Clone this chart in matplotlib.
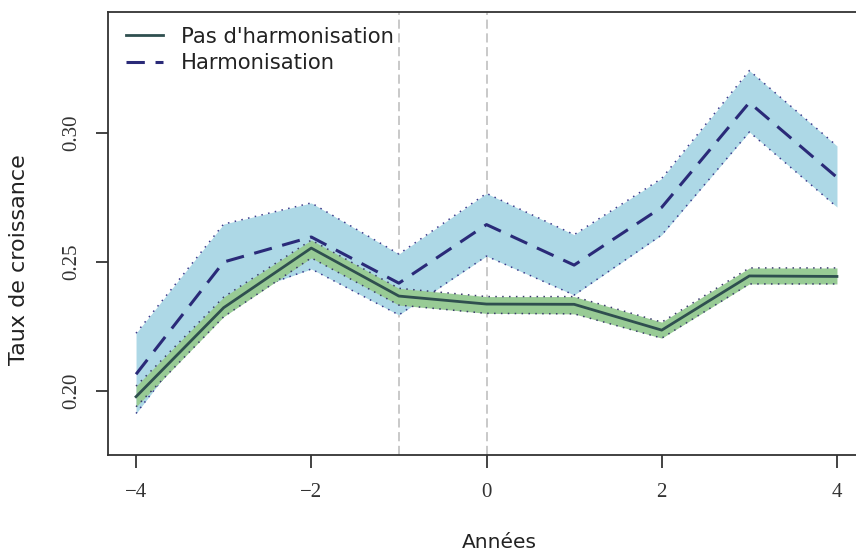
import numpy as np
import matplotlib.pyplot as plt

# donnees
annees = [-4, -3, -2, -1, 0, 1, 2, 3, 4]

harmo = [0.2065, 0.2500, 0.2597, 0.2418, 0.2645, 0.2488, 0.2712, 0.3118, 0.2828]
harmo_haut = [0.2224, 0.2647, 0.2729, 0.2531, 0.2766, 0.2606, 0.2824, 0.3242, 0.2950]
harmo_bas = [0.1913, 0.2353, 0.2473, 0.2295, 0.2523, 0.2372, 0.2605, 0.3004, 0.2713]

pas_harmo = [0.1978, 0.2323, 0.2554, 0.2368, 0.2337, 0.2336, 0.2236, 0.2446, 0.2444]
pas_harmo_haut = [0.2019, 0.2364, 0.2585, 0.2398, 0.2366, 0.2366, 0.2267, 0.2477, 0.2477]
pas_harmo_bas = [0.1939, 0.2288, 0.2516, 0.2333, 0.2301, 0.2299, 0.2205, 0.2415, 0.2415]

xticks = [-4, -2, 0, 2, 4]
yticks = [0.20, 0.25, 0.30]
vlines = [-1, 0]

fig = plt.figure(figsize=(8.56, 5.53), dpi=100)
ax = fig.add_axes([108 / 856, 98 / 553, 757 / 856, 443 / 553])

dot = (0, (1, 3.5))
ax.fill_between(annees, harmo_bas, harmo_haut, color='#add8e6', lw=0, zorder=1)
ax.plot(annees, harmo_haut, color='#3b3b8c', lw=1.1, ls=dot, zorder=2)
ax.plot(annees, harmo_bas, color='#3b3b8c', lw=1.1, ls=dot, zorder=2)

ax.fill_between(annees, pas_harmo_bas, pas_harmo_haut, color='#98cb95', lw=0, zorder=3)
ax.plot(annees, pas_harmo_haut, color='#3b3b6c', lw=1.1, ls=dot, zorder=4)
ax.plot(annees, pas_harmo_bas, color='#3b3b6c', lw=1.1, ls=dot, zorder=4)

ax.plot(annees, pas_harmo, color='#2f4f4f', lw=2, zorder=5, label="Pas d'harmonisation")
ax.plot(annees, harmo, color='#2a2a78', lw=2.2, ls=(0, (6, 3.5)), zorder=5, label='Harmonisation')

for v in vlines:
    ax.axvline(v, color='#bbbbbb', lw=1.1, ls=(0, (6, 3)), zorder=0)

ax.set_xlim(-4.32, 4.32)
ax.set_ylim(0.1752, 0.3469)

ax.set_xticks(xticks)
ax.set_xticklabels(['\u22124', '\u22122', '0', '2', '4'])
ax.set_yticks(yticks)
ax.set_yticklabels(['0.20', '0.25', '0.30'], rotation=90, va='center')
ax.tick_params(length=9, width=1.2, color='#222222', labelsize=15)
ax.tick_params(axis='x', pad=11)
ax.tick_params(axis='y', pad=10)
for lab in ax.get_xticklabels() + ax.get_yticklabels():
    lab.set_family('Liberation Serif')
    lab.set_color('#333333')

for s in ax.spines.values():
    s.set_linewidth(1.3)
    s.set_color('#333333')
ax.spines['right'].set_visible(False)

ax.set_ylabel('Taux de croissance', fontsize=16, family='DejaVu Sans', color='#222222')
ax.yaxis.set_label_coords((19 - 108) / 757, (455 - 260) / 443)
ax.set_xlabel('Années', fontsize=14.5, family='DejaVu Sans', color='#222222')
ax.xaxis.set_label_coords((499 - 108) / 757, -(543 - 455) / 443)
ax.xaxis.label.set_va('center')
ax.yaxis.label.set_va('center')

leg = ax.legend(loc='upper left', frameon=False, fontsize=15.2, handlelength=1.75,
                labelspacing=0.3, borderaxespad=0.3, handletextpad=0.85,
                bbox_to_anchor=(0.004, 1.0))
for t in leg.get_texts():
    t.set_color('#222222')

fig.savefig('out.png', dpi=100)
